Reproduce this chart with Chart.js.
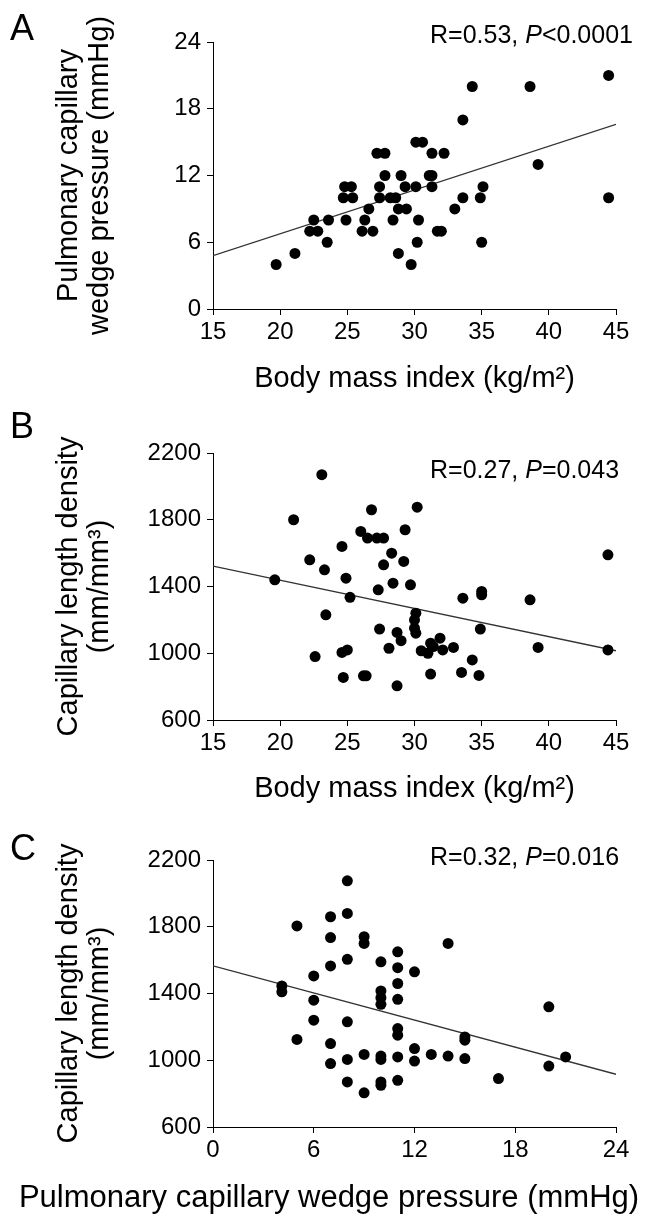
<!DOCTYPE html>
<html>
<head>
<meta charset="utf-8">
<script src="https://cdn.jsdelivr.net/npm/chart.js@4.4.1/dist/chart.umd.min.js"></script>
<style>
    html, body { margin: 0; padding: 0; background: #fff; }
    #figure { position: relative; width: 653px; height: 1220px; }
    .panel { position: absolute; left: 0; width: 653px; }
</style>
</head>
<body>
<div id="figure">
    <div class="panel" style="top:0;height:400px"><canvas id="panelA" width="653" height="400"></canvas></div>
    <div class="panel" style="top:400px;height:410px"><canvas id="panelB" width="653" height="410"></canvas></div>
    <div class="panel" style="top:810px;height:410px"><canvas id="panelC" width="653" height="410"></canvas></div>
</div>
<script>
// Panel A: BMI vs pulmonary capillary wedge pressure
const bmiA = [19.7, 21.1, 22.2, 22.8, 22.5, 23.6, 23.5, 24.8, 25.3, 24.7, 25.4, 24.9, 26.1, 26.9, 26.3, 26.6,
    27.2, 27.8, 27.8, 27.4, 27.4, 28.2, 28.6, 28.4, 28.8, 29.4, 29.0, 29.3, 28.8, 29.75, 30.1, 30.1, 30.6,
    30.3, 30.2, 31.1, 31.3, 31.3, 31.3, 32.2, 31.7, 32.0, 33.0, 33.6, 33.6, 34.3, 34.9, 35.1, 35.0, 38.6,
    39.2, 44.45, 44.45];
const pcwpA = [4, 5, 7, 7, 8, 8, 6, 11, 11, 10, 10, 8, 7, 7, 8, 9,
    14, 14, 12, 11, 10, 10, 10, 8, 9, 9, 12, 11, 5, 4, 11, 15, 15,
    8, 6, 12, 12, 11, 14, 14, 7, 7, 9, 10, 17, 20, 10, 11, 6, 20,
    13, 21, 10];
const fitXA = [15, 45];
const fitYA = [4.8, 16.6];
const statA = ['R=0.53, ', 'P', '<0.0001'];

// Panel B: BMI vs capillary length density
const bmiB = [19.6, 21.0, 23.1, 22.2, 23.3, 23.4, 22.6, 24.6, 24.9, 25.2, 24.6, 25.0, 24.7, 26.2, 26.4,
    26.0, 26.5, 26.8, 27.2, 27.7, 28.3, 27.7, 27.3, 28.4, 27.4, 28.1, 28.7, 29.0, 28.7, 29.3, 29.2,
    29.7, 30.2, 30.1, 30.0, 30.0, 30.1, 30.5, 31.0, 31.2, 31.4, 31.9, 32.1, 32.9, 31.2, 34.3, 33.5,
    34.8, 33.6, 35.0, 35.0, 34.9, 38.6, 39.2, 44.4, 44.4];
const cldB = [1440, 1800, 2070, 1560, 1500, 1230, 980, 1640, 1450, 1335, 1005, 1020, 855, 865, 865,
    1730, 1690, 1860, 1690, 1690, 1600, 1530, 1380, 1420, 1145, 1030, 1125, 1075, 805, 1740, 1550,
    1410, 1875, 1240, 1200, 1150, 1120, 1015, 1000, 1060, 1040, 1090, 1020, 1035, 875, 960, 885,
    867, 1330, 1370, 1350, 1145, 1320, 1035, 1590, 1020];
const fitXB = [15, 45];
const fitYB = [1522, 1015];
const statB = ['R=0.27, ', 'P', '=0.043'];

// Panel C: wedge pressure vs capillary length density
const pcwpC = [4.1, 4.1, 5, 5, 6, 6, 6, 7, 7, 7, 7, 7, 8, 8, 8, 8, 8, 8, 9, 9, 9, 9,
    10, 10, 10, 10, 10, 10, 10, 10, 11, 11, 11, 11, 11, 11, 11, 11, 12, 12, 12, 13, 14, 14,
    15, 15, 15, 17, 20, 20, 21];
const cldC = [1445, 1410, 1805, 1125, 1505, 1360, 1240, 1860, 1735, 1565, 1100, 980, 2075, 1880, 1605, 1230, 1005, 870, 1740, 1700, 1035, 805,
    1590, 1415, 1375, 1335, 1025, 1005, 870, 850, 1650, 1555, 1460, 1365, 1190, 1150, 1020, 880, 1530, 1070, 995, 1035, 1700, 1025,
    1140, 1120, 1010, 890, 1320, 965, 1020];
const fitXC = [0, 24];
const fitYC = [1566, 916];
const statC = ['R=0.32, ', 'P', '=0.016'];

const FONT = '"Liberation Sans", Arial, sans-serif';

const figure = {
    zip: (xs, ys) => xs.map((x, i) => ({ x: x, y: ys[i] })),

    // Panel letter, correlation text (P in italics) and any wide x title
    decor: {
        id: 'decor',
        afterDraw: (chart, args, opts) => {
            const ctx = chart.ctx;
            ctx.save();
            ctx.fillStyle = '#000';
            ctx.textBaseline = 'alphabetic';
            ctx.textAlign = 'left';
            ctx.font = `36px ${FONT}`;
            ctx.fillText(opts.letter, 10, opts.letterY);
            let x = 430;
            opts.stat.forEach((part, i) => {
                ctx.font = `${i === 1 ? 'italic ' : ''}25px ${FONT}`;
                ctx.fillText(part, x, opts.statY);
                x += ctx.measureText(part).width;
            });
            // title wider than the plot: Chart.js would squeeze it
            if (opts.wideTitle) {
                ctx.font = `31px ${FONT}`;
                ctx.textAlign = 'center';
                ctx.textBaseline = 'middle';
                ctx.fillText(opts.wideTitle, 329, opts.wideTitleY);
            }
            ctx.restore();
        }
    },

    makeChart: (cfg) => {
        const axisFont = { family: FONT, size: 29, lineHeight: 1.07 };
        const tickFont = { family: FONT, size: 24 };
        const canvas = document.getElementById(cfg.id);
        return new Chart(canvas, {
            type: 'scatter',
            data: {
                datasets: [
                    {
                        data: figure.zip(cfg.xs, cfg.ys),
                        backgroundColor: '#000',
                        borderWidth: 0,
                        pointRadius: 5.5,
                        pointHoverRadius: 5.5
                    },
                    {
                        type: 'line',
                        data: figure.zip(cfg.fitX, cfg.fitY),
                        borderColor: '#333',
                        borderWidth: 1.3,
                        pointRadius: 0,
                        fill: false
                    }
                ]
            },
            options: {
                responsive: false,
                animation: false,
                layout: { padding: { top: cfg.top, right: 37, left: 0, bottom: 0 } },
                plugins: {
                    legend: { display: false },
                    tooltip: { enabled: false },
                    decor: {
                        letter: cfg.letter, letterY: cfg.letterY, stat: cfg.stat, statY: cfg.statY,
                        wideTitle: cfg.wideTitle, wideTitleY: cfg.wideTitleY
                    }
                },
                scales: {
                    x: {
                        type: 'linear',
                        min: cfg.xMin, max: cfg.xMax,
                        afterFit: (scale) => { scale.height = canvas.height - cfg.bottom; },
                        border: { display: true, color: '#000', width: 1 },
                        grid: { display: true, drawOnChartArea: false, drawTicks: true, tickLength: 6, color: '#000' },
                        ticks: { stepSize: cfg.xStep, color: '#000', font: tickFont, padding: 3, maxRotation: 0 },
                        title: {
                            display: !!cfg.xTitle, text: cfg.xTitle, color: '#000', font: axisFont,
                            padding: { top: 0, bottom: 5 }
                        }
                    },
                    y: {
                        type: 'linear',
                        min: cfg.yMin, max: cfg.yMax,
                        afterFit: (scale) => { scale.width = 213; },
                        border: { display: true, color: '#000', width: 1 },
                        grid: { display: true, drawOnChartArea: false, drawTicks: true, tickLength: 6, color: '#000' },
                        ticks: {
                            stepSize: cfg.yStep, color: '#000', font: tickFont, padding: 6,
                            callback: (v) => String(v)
                        },
                        title: { display: true, text: cfg.yTitle, color: '#000', font: axisFont, padding: { top: 53, bottom: 0 } }
                    }
                }
            },
            plugins: [figure.decor]
        });
    },

    init: () => {
        figure.makeChart({
            id: 'panelA', letter: 'A', letterY: 40, stat: statA, statY: 43,
            xs: bmiA, ys: pcwpA, fitX: fitXA, fitY: fitYA,
            top: 42, bottom: 309,
            xMin: 15, xMax: 45, xStep: 5, yMin: 0, yMax: 24, yStep: 6,
            xTitle: 'Body mass index (kg/m²)',
            yTitle: ['Pulmonary capillary', 'wedge pressure (mmHg)']
        });
        figure.makeChart({
            id: 'panelB', letter: 'B', letterY: 38, stat: statB, statY: 78,
            xs: bmiB, ys: cldB, fitX: fitXB, fitY: fitYB,
            top: 53, bottom: 320,
            xMin: 15, xMax: 45, xStep: 5, yMin: 600, yMax: 2200, yStep: 400,
            xTitle: 'Body mass index (kg/m²)',
            yTitle: ['Capillary length density', '(mm/mm³)']
        });
        figure.makeChart({
            id: 'panelC', letter: 'C', letterY: 50, stat: statC, statY: 55,
            xs: pcwpC, ys: cldC, fitX: fitXC, fitY: fitYC,
            top: 50, bottom: 317,
            xMin: 0, xMax: 24, xStep: 6, yMin: 600, yMax: 2200, yStep: 400,
            xTitle: '',
            wideTitle: 'Pulmonary capillary wedge pressure (mmHg)', wideTitleY: 388,
            yTitle: ['Capillary length density', '(mm/mm³)']
        });
    }
};

document.addEventListener('DOMContentLoaded', () => {
    figure.init();
});
</script>
</body>
</html>
